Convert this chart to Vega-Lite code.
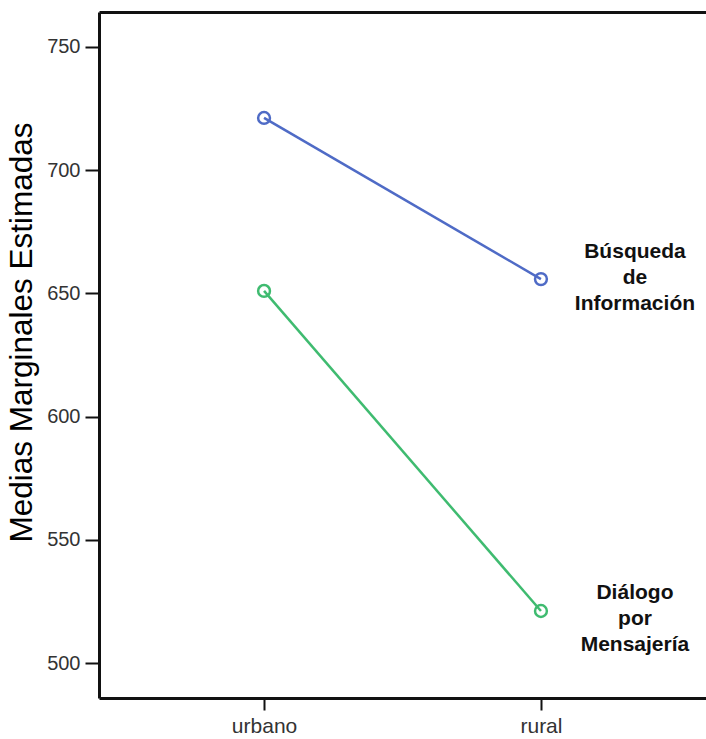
{
  "$schema": "https://vega.github.io/schema/vega-lite/v6.json",
  "width": 607,
  "height": 686,
  "autosize": {"type": "none"},
  "padding": {"left": 99, "top": 12, "right": 0, "bottom": 41},
  "background": "white",
  "config": {
    "view": {"stroke": null},
    "font": "Liberation Sans",
    "axis": {"grid": false, "domainColor": "#111", "domainWidth": 3, "tickColor": "#111", "tickWidth": 2, "tickSize": 14, "labelFont": "Liberation Sans", "labelColor": "#333"}
  },
  "data": {"values": [
    {"zona": "urbano", "grupo": "Búsqueda de Información", "media": 721.2},
    {"zona": "rural", "grupo": "Búsqueda de Información", "media": 655.8},
    {"zona": "urbano", "grupo": "Diálogo por Mensajería", "media": 651.0},
    {"zona": "rural", "grupo": "Diálogo por Mensajería", "media": 521.1}
  ]},
  "encoding": {
    "x": {"field": "zona", "type": "ordinal", "sort": ["urbano", "rural"], "scale": {"type": "point", "padding": 0.596}},
    "y": {"field": "media", "type": "quantitative", "scale": {"domain": [485.8, 764.2], "nice": false, "zero": false}},
    "color": {"field": "grupo", "type": "nominal", "scale": {"domain": ["Búsqueda de Información", "Diálogo por Mensajería"], "range": ["#4f6bc6", "#3fbb70"]}, "legend": null}
  },
  "layer": [
    {
      "mark": {"type": "line", "strokeWidth": 2.5},
      "encoding": {
        "x": {"field": "zona", "type": "ordinal", "sort": ["urbano", "rural"], "axis": {"orient": "bottom", "title": null, "labelAngle": 0, "tickSize": 12, "labelPadding": 5, "labelFontSize": 21}},
        "y": {"field": "media", "type": "quantitative", "axis": {"values": [500, 550, 600, 650, 700, 750], "title": "Medias Marginales Estimadas", "titleFont": "Liberation Sans", "titleFontSize": 31.5, "titleFontWeight": "normal", "titleColor": "#000", "titleAngle": -90, "titleX": -77, "titleY": 320, "titleAlign": "center", "titleBaseline": "middle", "labelPadding": 5, "labelFontSize": 20}}
      }
    },
    {
      "mark": {"type": "point", "shape": "circle", "filled": false, "size": 140, "strokeWidth": 2.5, "opacity": 1},
      "encoding": {
        "x": {"field": "zona", "type": "ordinal", "sort": ["urbano", "rural"], "axis": {"orient": "top", "title": null, "labels": false, "ticks": false, "domain": true}}
      }
    },
    {
      "transform": [{"filter": "datum.zona == 'rural' && datum.grupo == 'Búsqueda de Información'"}],
      "mark": {"type": "text", "dx": 94, "dy": -27, "align": "center", "baseline": "middle", "fontSize": 21, "fontWeight": "bold", "lineHeight": 26, "lineBreak": " ", "color": "#111"},
      "encoding": {
        "x": {"field": "zona", "type": "ordinal", "sort": ["urbano", "rural"], "axis": null},
        "text": {"field": "grupo", "type": "nominal"},
        "color": {"value": "#111"}
      }
    },
    {
      "transform": [{"filter": "datum.zona == 'rural' && datum.grupo == 'Diálogo por Mensajería'"}],
      "mark": {"type": "text", "dx": 94, "dy": -18, "align": "center", "baseline": "middle", "fontSize": 21, "fontWeight": "bold", "lineHeight": 26, "lineBreak": " ", "color": "#111"},
      "encoding": {
        "x": {"field": "zona", "type": "ordinal", "sort": ["urbano", "rural"], "axis": null},
        "text": {"field": "grupo", "type": "nominal"},
        "color": {"value": "#111"}
      }
    }
  ],
  "resolve": {"axis": {"x": "independent"}}
}
